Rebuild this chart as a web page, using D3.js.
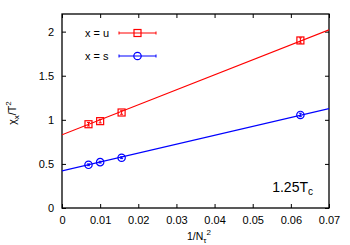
<!DOCTYPE html>
<html>
<head>
<meta charset="utf-8">
<script src="https://cdn.jsdelivr.net/npm/d3@7"></script>
<style>
  body { margin: 0; background: #fff; }
  text { font-family: "Liberation Sans", Arial, sans-serif; }
</style>
</head>
<body>
<div id="chart"></div>
<script>
const WIDTH = 350;
const HEIGHT = 245;

// === DATA ===
const xs = [1 / 144, 1 / 100, 1 / 64, 1 / 16];   // 1/N_tau^2 for N_tau = 12, 10, 8, 4
const uVals = [0.95, 0.985, 1.083, 1.90];
const uErr = [0.02, 0.02, 0.02, 0.03];
const sVals = [0.49, 0.52, 0.57, 1.055];
const sErr = [0.01, 0.01, 0.01, 0.02];
const uFit = [0.83, 17.0];   // intercept, slope
const sFit = [0.42, 10.1];
const xTicks = [0, 0.01, 0.02, 0.03, 0.04, 0.05, 0.06, 0.07];
const yTicks = [0, 0.5, 1, 1.5, 2];

const margin = { left: 62, right: 21, top: 14, bottom: 37 };

const svg = d3.select("#chart")
    .append("svg")
    .attr("width", WIDTH)
    .attr("height", HEIGHT);

const x = d3.scaleLinear().domain([0, 0.07]).range([margin.left, WIDTH - margin.right]);
const y = d3.scaleLinear().domain([0, 2.2]).range([HEIGHT - margin.bottom, margin.top]);

// clip for fit lines
svg.append("clipPath").attr("id", "clip")
    .append("rect")
    .attr("x", margin.left).attr("y", margin.top)
    .attr("width", x(0.07) - x(0)).attr("height", y(0) - y(2.2));

// === AXES ===
const fmt = d => d === 0 ? "0" : String(d);

svg.append("g")
    .attr("transform", `translate(0,${y(0)})`)
    .call(d3.axisBottom(x).tickValues(xTicks).tickFormat(fmt).tickSize(-4).tickPadding(8))
    .call(g => g.select(".domain").remove());
svg.append("g")
    .attr("transform", `translate(0,${y(2.2)})`)
    .call(d3.axisTop(x).tickValues(xTicks).tickFormat("").tickSize(-4))
    .call(g => g.select(".domain").remove());
svg.append("g")
    .attr("transform", `translate(${x(0)},0)`)
    .call(d3.axisLeft(y).tickValues(yTicks).tickFormat(fmt).tickSize(-4).tickPadding(8))
    .call(g => g.select(".domain").remove());
svg.append("g")
    .attr("transform", `translate(${x(0.07)},0)`)
    .call(d3.axisRight(y).tickValues(yTicks).tickFormat("").tickSize(-4))
    .call(g => g.select(".domain").remove());

svg.selectAll(".tick text")
    .style("font-size", "11px")
    .attr("fill", "#000");
svg.selectAll(".tick line").attr("stroke", "#000");

svg.append("rect")
    .attr("x", x(0)).attr("y", y(2.2))
    .attr("width", x(0.07) - x(0)).attr("height", y(0) - y(2.2))
    .attr("fill", "none").attr("stroke", "#000").attr("stroke-width", 1.3);

// === SERIES ===
function drawSeries(vals, errs, fit, color, shape) {
    svg.append("line")
        .attr("clip-path", "url(#clip)")
        .attr("x1", x(0)).attr("y1", y(fit[0]))
        .attr("x2", x(0.07)).attr("y2", y(fit[0] + fit[1] * 0.07))
        .attr("stroke", color).attr("stroke-width", 1.2);

    const pts = xs.map((v, i) => ({ x: v, y: vals[i], e: errs[i] }));
    const g = svg.append("g").selectAll("g").data(pts).enter().append("g")
        .attr("transform", d => `translate(${x(d.x)},${y(d.y)})`);

    g.append("line")
        .attr("x1", 0).attr("x2", 0)
        .attr("y1", d => y(d.y - d.e) - y(d.y))
        .attr("y2", d => y(d.y + d.e) - y(d.y))
        .attr("stroke", color).attr("stroke-width", 1);
    g.append("line").attr("x1", -1.5).attr("x2", 1.5)
        .attr("y1", d => y(d.y - d.e) - y(d.y)).attr("y2", d => y(d.y - d.e) - y(d.y))
        .attr("stroke", color);
    g.append("line").attr("x1", -1.5).attr("x2", 1.5)
        .attr("y1", d => y(d.y + d.e) - y(d.y)).attr("y2", d => y(d.y + d.e) - y(d.y))
        .attr("stroke", color);

    if (shape === "square") {
        g.append("rect").attr("x", -3.5).attr("y", -3.5).attr("width", 7).attr("height", 7)
            .attr("fill", "none").attr("stroke", color).attr("stroke-width", 1.2);
    } else {
        g.append("circle").attr("r", 3.7)
            .attr("fill", "none").attr("stroke", color).attr("stroke-width", 1.2);
    }
}

drawSeries(uVals, uErr, uFit, "#ff0000", "square");
drawSeries(sVals, sErr, sFit, "#0000ff", "circle");

// === LEGEND ===
const legend = [
    { label: "x = u", color: "#ff0000", shape: "square", y: 33 },
    { label: "x = s", color: "#0000ff", shape: "circle", y: 56 }
];
legend.forEach(l => {
    svg.append("text").attr("x", 85).attr("y", l.y).attr("dy", "0.35em")
        .style("font-size", "11px").text(l.label);
    svg.append("line").attr("x1", 119).attr("x2", 156).attr("y1", l.y).attr("y2", l.y)
        .attr("stroke", l.color).attr("stroke-width", 1.2);
    [119, 156].forEach(cx => svg.append("line").attr("x1", cx).attr("x2", cx)
        .attr("y1", l.y - 1.5).attr("y2", l.y + 1.5).attr("stroke", l.color));
    if (l.shape === "square") {
        svg.append("rect").attr("x", 137.5 - 3.5).attr("y", l.y - 3.5).attr("width", 7).attr("height", 7)
            .attr("fill", "none").attr("stroke", l.color).attr("stroke-width", 1.2);
    } else {
        svg.append("circle").attr("cx", 137.5).attr("cy", l.y).attr("r", 3.7)
            .attr("fill", "none").attr("stroke", l.color).attr("stroke-width", 1.2);
    }
});

// === LABELS ===
const tc = svg.append("text").attr("x", 313).attr("y", 192).attr("text-anchor", "end")
    .style("font-size", "14px");
tc.append("tspan").text("1.25T");
tc.append("tspan").attr("dy", 3).style("font-size", "10px").text("c");

const xl = svg.append("text").attr("x", 199).attr("y", 240).attr("text-anchor", "middle")
    .style("font-size", "10.5px");
xl.append("tspan").text("1/N");
xl.append("tspan").attr("dy", 3).style("font-size", "8px").text("τ");
xl.append("tspan").attr("dy", -8).style("font-size", "8px").text("2");

const yl = svg.append("text")
    .attr("transform", `translate(16,${(y(0) + y(2.2)) / 2 + 2}) rotate(-90)`)
    .attr("text-anchor", "middle")
    .style("font-size", "10.5px");
yl.append("tspan").text("χ");
yl.append("tspan").attr("dy", 3).style("font-size", "8px").text("x");
yl.append("tspan").attr("dy", -3).text("/T");
yl.append("tspan").attr("dy", -5).style("font-size", "8px").text("2");
</script>
</body>
</html>
